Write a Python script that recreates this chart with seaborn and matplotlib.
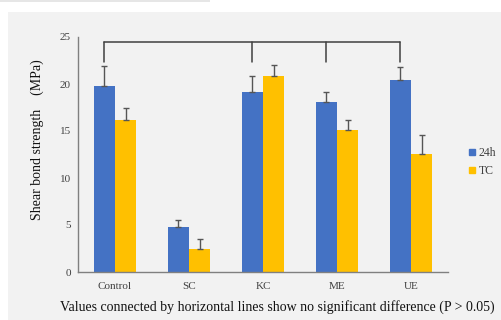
import pandas as pd
import matplotlib.pyplot as plt
import seaborn as sns
from matplotlib.patches import Rectangle

# values (MPa)
groups = ["Control", "SC", "KC", "ME", "UE"]
series = ["24h", "TC"]
mean_24h = [19.8, 4.8, 19.1, 18.1, 20.4]
mean_tc = [16.2, 2.5, 20.8, 15.1, 12.6]
err_24h = [2.1, 0.75, 1.8, 1.1, 1.4]
err_tc = [1.2, 1.0, 1.25, 1.1, 2.0]
bracket_groups = ["Control", "KC", "ME", "UE"]
bracket_level = 24.5
bracket_drop = 22.3
y_ticks = [0, 5, 10, 15, 20, 25]

df = pd.DataFrame({
    "group": groups * 2,
    "series": ["24h"] * 5 + ["TC"] * 5,
    "value": mean_24h + mean_tc,
    "err": err_24h + err_tc,
})

sns.set_style("white")
plt.rcParams["font.family"] = ["Liberation Serif", "DejaVu Serif"]

palette = {"24h": "#4472C4", "TC": "#FFC000"}

fig = plt.figure(figsize=(5.02, 3.2), dpi=100)
fig.patch.set_facecolor("white")
fig.patches.append(Rectangle((8 / 502, 0), 1, 1 - 12 / 320, transform=fig.transFigure,
                             facecolor="#F2F2F2", edgecolor="none", zorder=-10))
fig.patches.append(Rectangle((0, 1 - 2 / 320), 210 / 502, 2 / 320, transform=fig.transFigure,
                             facecolor="#E6E6E6", edgecolor="none", zorder=-10))

ax = fig.add_axes([78 / 502, 1 - 272 / 320, 370 / 502, 235 / 320])
ax.set_facecolor("none")

sns.barplot(data=df, x="group", y="value", hue="series", order=groups,
            hue_order=series, palette=palette, width=0.57, errorbar=None,
            saturation=1, linewidth=0, ax=ax, legend=False)

# plus-only error bars, Excel style
centers = {}
for s, container in zip(series, ax.containers):
    sub = df[df["series"] == s].set_index("group").loc[groups]
    xs = [p.get_x() + p.get_width() / 2 for p in container.patches]
    centers[s] = dict(zip(groups, xs))
    ax.errorbar(xs, sub["value"], yerr=[[0] * len(xs), sub["err"]], fmt="none",
                ecolor="#555555", elinewidth=1, capsize=2, capthick=1, zorder=3)

# bracket over groups with no significant difference
bx = [centers["24h"][g] for g in bracket_groups]
ax.plot([bx[0], bx[-1]], [bracket_level, bracket_level], color="#404040", lw=1.1, clip_on=False)
for x in bx:
    ax.plot([x, x], [bracket_level, bracket_drop], color="#404040", lw=1.1, clip_on=False)

ax.set_ylim(0, 25)
ax.set_xlim(-0.5, 4.5)
ax.set_yticks(y_ticks)
ax.tick_params(axis="y", length=3, color="#808080", labelsize=8, labelcolor="#404040", pad=2)
ax.tick_params(axis="x", length=0, labelsize=8, labelcolor="#404040", pad=7)
for side in ["top", "right"]:
    ax.spines[side].set_visible(False)
for side in ["left", "bottom"]:
    ax.spines[side].set_color("#808080")
    ax.spines[side].set_linewidth(1)

ax.set_xlabel("")
ax.set_ylabel("")
fig.text(37 / 502, 1 - 140 / 320, "Shear bond strength\u3000(MPa)", rotation=90,
         ha="center", va="center", fontsize=10, color="#111111",
         family=["Liberation Serif", "Noto Sans CJK JP"])

fig.text(277 / 502, 1 - 307 / 320,
         "Values connected by horizontal lines show no significant difference (P > 0.05)",
         ha="center", va="center", fontsize=10, color="#111111")

# legend on the right
handles = [plt.Line2D([], [], marker="s", ls="none", color=palette[s], markersize=5) for s in series]
fig.legend(handles, series, loc="center left", bbox_to_anchor=(455 / 502, 1 - 162 / 320),
           frameon=False, fontsize=8.5, handletextpad=0.1, labelspacing=0.5,
           labelcolor="#404040", handlelength=1)

fig.savefig("out.png", dpi=100)
